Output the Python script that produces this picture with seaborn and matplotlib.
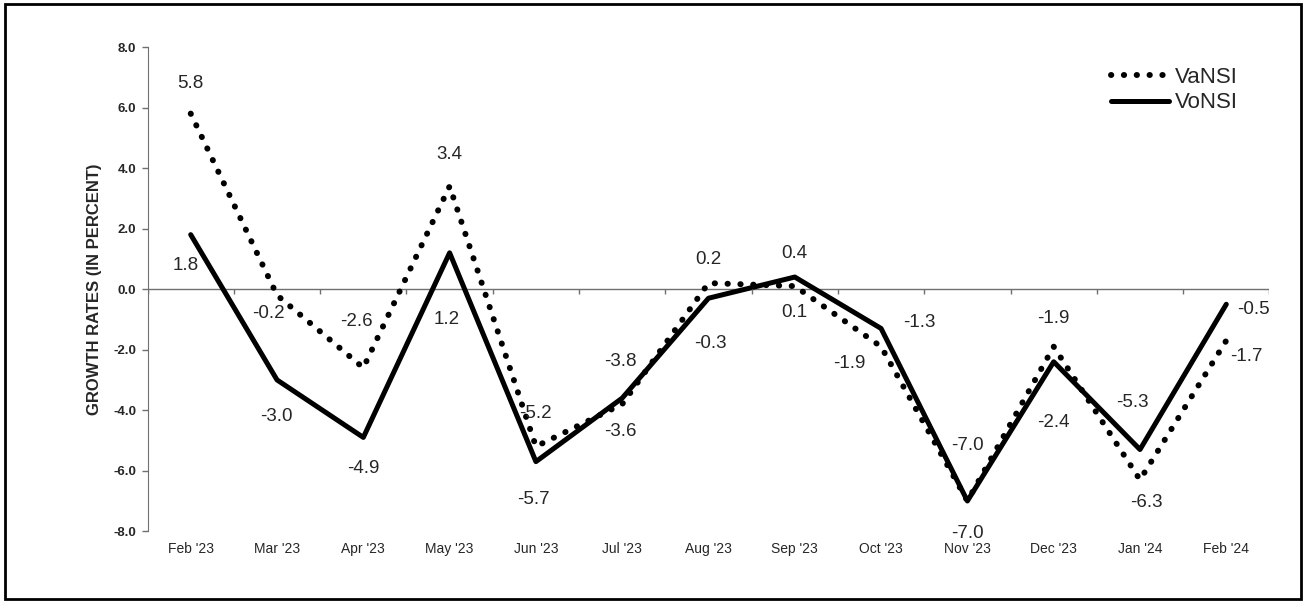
import pandas as pd
import matplotlib.pyplot as plt
import seaborn as sns
from matplotlib.patches import Rectangle

months = ["Feb '23", "Mar '23", "Apr '23", "May '23", "Jun '23", "Jul '23", "Aug '23",
          "Sep '23", "Oct '23", "Nov '23", "Dec '23", "Jan '24", "Feb '24"]
vansi = [5.8, -0.2, -2.6, 3.4, -5.2, -3.8, 0.2, 0.1, -1.9, -7.0, -1.9, -6.3, -1.7]
vonsi = [1.8, -3.0, -4.9, 1.2, -5.7, -3.6, -0.3, 0.4, -1.3, -7.0, -2.4, -5.3, -0.5]

# label offsets in pixels (dx right, dy down)
va_off = [(0, -30), (-9, 18), (-7, -46), (0, -32), (0, -33), (-2, -43), (0, -24),
          (0, 26), (-32, 17), (0, -55), (0, -28), (6, 23), (20, 16)]
vo_off = [(-5, 31), (-1, 37), (0, 31), (-3, 67), (-2, 38), (-2, 33), (2, 45),
          (0, -24), (38, -6), (0, 33), (0, 61), (-8, -47), (27, 5)]

df = pd.DataFrame({"x": range(len(months)), "VaNSI": vansi, "VoNSI": vonsi})

sns.set_style("white")
plt.rcParams['font.family'] = ['Liberation Sans', 'DejaVu Sans']

fig = plt.figure(figsize=(13.06, 6.03), dpi=100)
ax = fig.add_axes([0.113, 0.119, 0.859, 0.803])

sns.lineplot(data=df, x="x", y="VaNSI", ax=ax, color='black', linewidth=4.3,
             linestyle=(0, (0.05, 2.1)), label='VaNSI')
ax.lines[-1].set_dash_capstyle('round')
sns.lineplot(data=df, x="x", y="VoNSI", ax=ax, color='black', linewidth=3.6,
             label='VoNSI')

ax.axhline(0, color='#707070', linewidth=1, zorder=0)
ax.vlines([k - 0.5 for k in range(len(months) + 1)], -0.17, 0, color='#707070', linewidth=1)

px = 0.72  # pixels -> points
for i in range(len(months)):
    ax.annotate(f"{vansi[i]:.1f}", (i, vansi[i]), xytext=(va_off[i][0] * px, -va_off[i][1] * px),
                textcoords='offset points', ha='center', va='center', fontsize=13.5)
    ax.annotate(f"{vonsi[i]:.1f}", (i, vonsi[i]), xytext=(vo_off[i][0] * px, -vo_off[i][1] * px),
                textcoords='offset points', ha='center', va='center', fontsize=13.5)

ax.set_xlim(-0.5, len(months) - 0.5)
ax.set_ylim(-8, 8)
ax.set_yticks(range(-8, 9, 2))
ax.set_yticklabels([f"{v:.1f}" for v in range(-8, 9, 2)], fontweight='bold', fontsize=9.5)
ax.set_xticks(range(len(months)))
ax.set_xticklabels(months, fontsize=10)
ax.tick_params(axis='x', length=0, pad=8)
ax.tick_params(axis='y', length=4, width=1, color='#707070', left=True, pad=4)
ax.set_xlabel("")
ax.set_ylabel("GROWTH RATES (IN PERCENT)", fontweight='bold', fontsize=12, labelpad=8)
for s in ['top', 'right', 'bottom']:
    ax.spines[s].set_visible(False)
ax.spines['left'].set_color('#707070')

leg = ax.legend(loc='upper right', bbox_to_anchor=(0.99, 1.0), frameon=False, fontsize=16,
                handlelength=2.6, handletextpad=0.3, labelspacing=0.2)

fig.patches.append(Rectangle((0.004, 0.006), 0.992, 0.988, transform=fig.transFigure,
                             fill=False, edgecolor='black', linewidth=2))

fig.savefig("out.png", dpi=100)
